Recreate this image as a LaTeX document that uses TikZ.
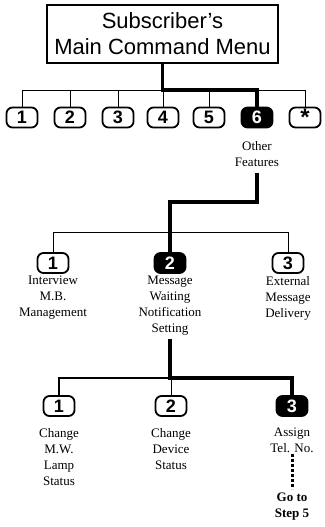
\documentclass[tikz,border=0pt]{standalone}
\usepackage{fontspec}
\setmainfont{Liberation Serif}
\setsansfont{Liberation Sans}
\usetikzlibrary{positioning}

\begin{document}
\begin{tikzpicture}[
  x=1pt, y=-1pt,
  menu/.style={draw, rectangle, line width=1.4pt, minimum width=231pt, minimum height=58pt,
               align=center, inner sep=0pt, font=\sffamily\fontsize{22}{26}\selectfont},
  key/.style={draw, rounded corners=6pt, line width=1.8pt, minimum width=31pt, minimum height=20pt,
              inner sep=0pt, font=\sffamily\bfseries\fontsize{18}{18}\selectfont},
  hit/.style={key, fill=black, text=white},
  lab/.style={align=center, inner sep=0pt, font=\fontsize{13}{16}\selectfont},
  bus/.style={line width=1pt},
  mid/.style={line width=2.4pt},
  sel/.style={line width=3.3pt},
  dots/.style={line width=3pt, dash pattern=on 3pt off 2pt}
]
  \useasboundingbox (0,0) rectangle (324,527);

  % main menu and its keys
  \node[menu] (menu) at (162.5,34) {Subscriber's\\Main Command Menu};
  \foreach \n/\x in {1/22,2/70,3/118,4/163,5/209}
    \node[key] (k\n) at (\x,117.5) {\n};
  \node[hit] (k6) at (257,117.5) {6};
  \node[key] (k7) at (305,117.5) {\raisebox{-5pt}{\fontsize{24}{24}\selectfont *}};
  \node[lab, below=13pt of k6] (f6) {Other\\Features};

  \coordinate (bus1) at (0,90);
  \draw[bus] (k1.north) |- (bus1 -| k7) -- (k7.north);
  \foreach \n in {2,3,4,5}
    \draw[bus] (k\n.north) -- (k\n.north |- bus1);
  \draw[sel] (menu.south) -- (menu.south |- bus1) -| (k6.north);

  % other features
  \node[key] (m1) at (53,263) {1};
  \node[hit] (m2) at (170,263) {2};
  \node[key] (m3) at (288,263) {3};
  \node[lab, below=2pt of m1] (l1) {Interview\\M.B.\\Management};
  \node[lab, below=2pt of m2] (l2) {Message\\Waiting\\Notification\\Setting};
  \node[lab, below=2pt of m3] (l3) {External\\Message\\Delivery};

  \coordinate (jog) at (0,202);
  \coordinate (bus2) at (0,232);
  \draw[bus] (m1.north) |- (bus2 -| m3) -- (m3.north);
  \draw[sel, shorten <=6pt] (f6.south) |- (jog -| m2) -- (m2.north);

  % message waiting notification setting
  \node[key] (s1) at (59,406) {1};
  \node[key] (s2) at (171,406) {2};
  \node[hit] (s3) at (292,406) {3};
  \node[lab, below=11pt of s1] (c1) {Change\\M.W.\\Lamp\\Status};
  \node[lab, below=11pt of s2] (c2) {Change\\Device\\Status};
  \node[lab, below=11pt of s3] (c3) {Assign\\Tel. No.};
  \node[lab, font=\bfseries\fontsize{13}{16}\selectfont, below=40pt of c3] (step) {Go to\\Step 5};

  \coordinate (bus3) at (0,378);
  \draw[mid] (s1.north) |- (bus3 -| l2);
  \draw[bus] (s2.north) -- (s2.north |- bus3);
  \draw[sel, shorten <=3pt] (l2.south) |- (bus3 -| s3) -- (s3.north);
  \draw[dots, shorten <=1pt, shorten >=4pt] (c3.south) -- (step.north);
\end{tikzpicture}
\end{document}
